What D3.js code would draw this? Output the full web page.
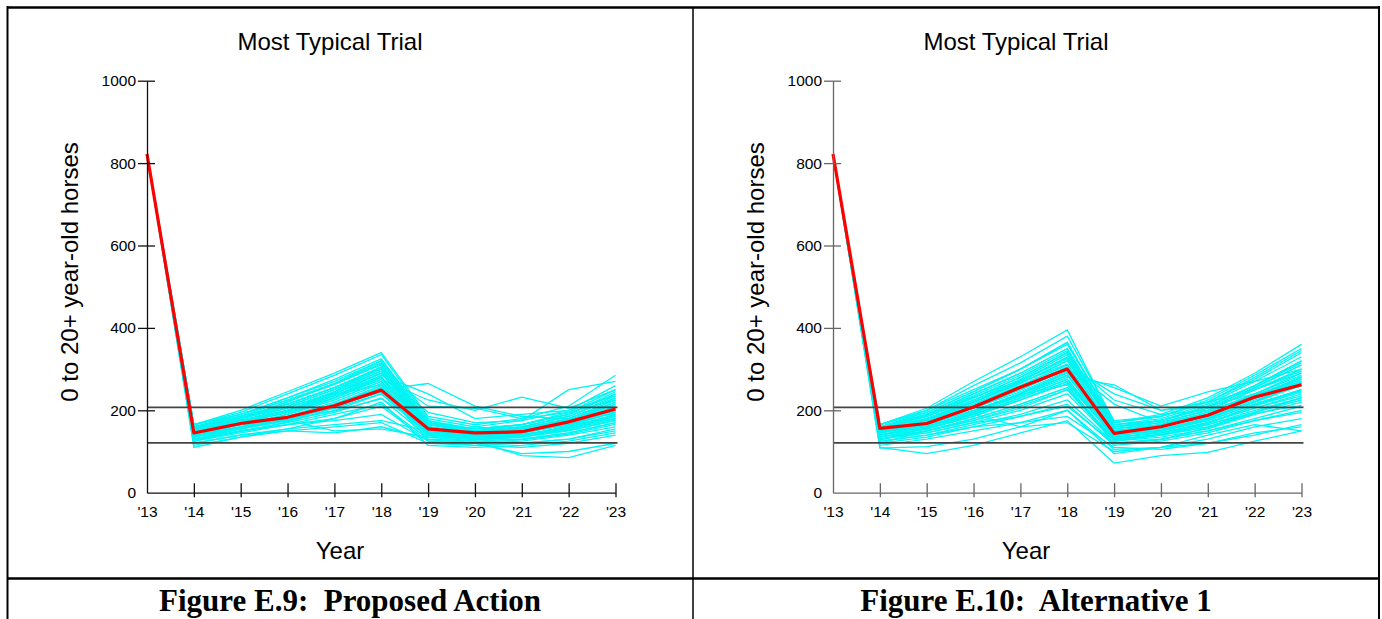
<!DOCTYPE html>
<html><head><meta charset="utf-8">
<script src="https://cdn.jsdelivr.net/npm/d3@7"></script>
<style>
html,body{margin:0;padding:0;background:#fff;}
svg{display:block;}
</style></head>
<body>
<svg id="c" width="1382" height="619"></svg>
<script>
const years = ["'13","'14","'15","'16","'17","'18","'19","'20","'21","'22","'23"];
const yTicks = [0,200,400,600,800,1000];
const refLines = [207,121];
const titles = ["Most Typical Trial","Most Typical Trial"];
const captions = ["Figure E.9:  Proposed Action","Figure E.10:  Alternative 1"];
const yLabel = "0 to 20+ year-old horses";
const xLabel = "Year";

const typicalLeft  = [822,145,168,183,211,249,155,145,148,172,203];
const typicalRight = [822,156,168,208,256,300,144,160,188,232,262];

const trialsLeft = [
[822,150,170,195,230,280,160,140,150,170,200],
[822,160,185,215,255,300,170,150,160,185,230],
[822,140,160,180,205,240,145,130,135,155,180],
[822,130,150,170,195,230,135,125,130,145,170],
[822,165,195,240,285,335,180,160,175,200,260],
[822,155,180,220,265,320,165,145,155,180,220],
[822,145,170,200,240,290,155,140,145,165,205],
[822,125,145,165,180,210,125,120,125,140,160],
[822,135,155,180,215,260,150,135,140,160,190],
[822,160,190,230,275,325,175,150,165,190,240],
[822,150,175,205,245,305,160,145,150,175,215],
[822,120,140,150,160,170,120,115,110,120,140],
[822,140,165,190,225,270,150,135,145,165,195],
[822,165,200,245,290,340,185,165,180,210,285],
[822,130,155,175,200,240,140,130,135,150,175],
[822,145,165,185,215,255,155,140,150,170,210],
[822,155,180,210,250,295,165,150,155,180,225],
[822,115,135,150,145,160,130,120,95,100,120],
[822,150,175,200,235,285,240,180,190,200,235],
[822,135,160,185,220,265,145,130,140,155,185],
[822,160,185,225,265,315,170,150,160,185,235],
[822,140,160,190,230,275,225,200,232,205,250],
[822,145,170,195,230,275,160,145,150,170,205],
[822,125,150,165,190,215,130,125,120,130,150],
[822,155,175,200,240,290,210,205,180,195,225],
[822,150,170,195,230,280,150,140,145,165,200],
[822,135,155,175,210,250,140,130,130,145,170],
[822,165,190,230,270,320,175,155,165,190,245],
[822,120,140,155,165,175,150,160,150,165,180],
[822,140,160,185,215,250,265,210,185,180,190],
[822,155,180,215,255,305,170,150,160,185,230],
[822,130,155,180,210,245,145,135,140,160,185],
[822,145,165,175,150,155,135,125,90,85,115],
[822,150,175,200,245,295,160,145,155,175,215],
[822,160,185,210,250,300,165,150,155,180,225],
[822,110,135,155,180,220,115,110,115,125,145],
[822,140,165,190,225,270,155,140,150,170,200],
[822,150,170,200,240,290,195,170,175,250,270],
[822,135,160,185,215,255,145,135,140,155,180],
[822,145,170,195,235,280,155,145,150,170,210],
[822,160,185,215,255,305,165,155,165,190,240],
[822,130,150,165,175,190,125,115,120,130,155],
[822,155,180,205,245,290,160,145,155,175,220],
[822,140,160,180,210,245,150,140,150,165,195],
[822,165,190,225,265,310,170,155,165,195,250],
[822,148,172,198,238,262,138,128,136,152,176],
[822,158,182,208,242,282,148,138,142,158,188],
[822,128,148,172,205,252,128,122,128,142,166],
[822,152,178,222,262,312,142,132,138,162,196],
[822,138,158,178,198,228,158,148,158,178,208]
];

const trialsRight = [
[822,150,170,210,255,300,150,160,185,230,265],
[822,160,190,240,290,350,160,175,205,255,310],
[822,140,155,185,225,270,135,145,170,210,245],
[822,130,145,170,200,240,125,135,155,190,220],
[822,165,205,270,330,395,170,190,230,290,360],
[822,155,185,230,280,340,155,170,200,250,300],
[822,145,165,200,240,285,145,155,180,220,260],
[822,125,140,160,185,215,115,125,145,175,200],
[822,135,155,190,230,275,140,150,175,215,250],
[822,160,195,245,300,365,165,180,215,270,330],
[822,150,175,220,265,320,150,165,195,240,290],
[822,110,95,115,145,175,72,90,98,125,150],
[822,140,160,195,235,285,140,150,180,220,265],
[822,165,200,260,315,380,175,185,225,285,350],
[822,130,150,175,210,250,130,140,160,195,230],
[822,145,170,210,250,300,150,160,190,235,275],
[822,155,180,225,270,325,160,170,200,250,295],
[822,115,130,150,170,200,105,110,130,160,180],
[822,150,175,215,260,310,240,200,220,250,290],
[822,135,155,190,225,270,135,145,170,205,240],
[822,160,190,240,290,350,165,175,210,260,320],
[822,140,165,205,245,295,255,210,245,270,300],
[822,145,170,205,250,300,145,160,185,230,270],
[822,125,140,165,190,225,120,130,150,180,210],
[822,155,180,220,265,320,225,190,200,235,270],
[822,150,170,205,250,300,150,165,190,235,275],
[822,135,150,180,215,255,130,140,165,200,230],
[822,165,200,250,300,360,170,185,220,275,340],
[822,120,135,160,170,185,110,105,120,140,165],
[822,140,160,195,235,280,262,200,210,240,265],
[822,155,185,225,275,335,160,175,205,255,310],
[822,130,150,180,215,255,130,140,160,195,225],
[822,145,165,190,160,170,100,110,140,165,150],
[822,150,175,215,260,310,155,165,195,240,285],
[822,160,190,235,285,345,160,175,210,260,315],
[822,108,112,130,160,200,95,110,120,145,160],
[822,140,165,200,240,290,140,155,180,225,260],
[822,150,175,210,255,305,215,170,190,235,280],
[822,135,155,185,225,265,135,145,170,205,235],
[822,145,170,210,255,305,150,160,190,235,280],
[822,160,185,230,280,340,160,175,210,260,320],
[822,130,145,170,185,210,120,130,150,175,195],
[822,155,180,220,270,330,155,170,200,250,300],
[822,140,160,190,230,275,140,150,175,215,250],
[822,165,195,245,300,365,170,185,220,280,345],
[822,120,150,175,205,250,125,140,165,195,230],
[822,148,178,222,268,312,128,142,168,212,248],
[822,158,188,232,272,328,138,152,182,228,282],
[822,128,158,198,238,262,118,128,158,192,212],
[822,152,162,192,242,292,132,148,178,222,268]
];

const svg = d3.select("#c");
const SANS = "'Liberation Sans', Arial, sans-serif";
const SERIF = "'Liberation Serif', 'Times New Roman', serif";

// frame
const frame = svg.append("g").attr("fill","none").attr("stroke","#000");
frame.append("line").attr("x1",7).attr("x2",1380).attr("y1",7.5).attr("y2",7.5).attr("stroke-width",2.5);
frame.append("line").attr("x1",7.5).attr("x2",7.5).attr("y1",6).attr("y2",619).attr("stroke-width",2);
frame.append("line").attr("x1",1379).attr("x2",1379).attr("y1",6).attr("y2",619).attr("stroke-width",2);
frame.append("line").attr("x1",693).attr("x2",693).attr("y1",7).attr("y2",619).attr("stroke-width",1.5);
frame.append("line").attr("x1",7).attr("x2",1380).attr("y1",578.5).attr("y2",578.5).attr("stroke-width",2.5);

function panel(ox, trials, typical, axisColor, title, caption){
  const g = svg.append("g").attr("transform",`translate(${ox},0)`);
  const x = d3.scalePoint().domain(years).range([140, 608.5]);
  const y = d3.scaleLinear().domain([0,1000]).range([492.7, 80.7]);

  // title
  g.append("text").attr("x",323).attr("y",50).attr("text-anchor","middle")
    .attr("font-family",SANS).attr("font-size",24).attr("fill","#000").text(title);

  // trials
  const line = d3.line().x((d,i)=>x(years[i])).y(d=>y(d));
  g.append("g").selectAll("path").data(trials).enter().append("path")
    .attr("d",line).attr("fill","none").attr("stroke","#00f4f4").attr("stroke-width",1.3)
    .attr("stroke-linejoin","miter");

  // reference lines
  g.selectAll("line.ref").data(refLines).enter().append("line").attr("class","ref")
    .attr("x1",x(years[0])).attr("x2",x(years[years.length-1])+2)
    .attr("y1",d=>y(d)).attr("y2",d=>y(d))
    .attr("stroke","#444").attr("stroke-width",1.6);

  // typical
  g.append("path").datum(typical).attr("d",line).attr("fill","none")
    .attr("stroke","#ff0000").attr("stroke-width",3.2).attr("stroke-linejoin","round");

  // y axis
  const ya = d3.axisLeft(y).tickValues(yTicks).tickFormat(d3.format("d")).tickSize(0).tickPadding(11);
  const yg = g.append("g").attr("transform",`translate(${x(years[0])},0)`).call(ya);
  yg.select(".domain").attr("stroke",axisColor).attr("stroke-width",1.3);
  yg.selectAll(".tick text").attr("font-family",SANS).attr("font-size",15.5).attr("fill","#000");
  yg.selectAll(".tick").filter(d=>d>0).append("line").attr("x1",-9).attr("x2",8)
    .attr("stroke",axisColor).attr("stroke-width",1.3);

  // x axis
  const xa = d3.axisBottom(x).tickSize(0).tickPadding(13);
  const xg = g.append("g").attr("transform",`translate(0,${y(0)})`).call(xa);
  xg.select(".domain").attr("stroke",axisColor).attr("stroke-width",1.3);
  xg.selectAll(".tick text").attr("font-family",SANS).attr("font-size",15.5).attr("fill","#000");
  xg.selectAll(".tick").filter((d,i)=>i>0).append("line").attr("y1",-9.5).attr("y2",4.5)
    .attr("stroke",axisColor).attr("stroke-width",1.3);

  // axis labels
  g.append("text").attr("transform","translate(62,272) rotate(-90)")
    .attr("text-anchor","middle").attr("dominant-baseline","central")
    .attr("font-family",SANS).attr("font-size",24).attr("fill","#000").text(yLabel);
  g.append("text").attr("x",333).attr("y",559).attr("text-anchor","middle")
    .attr("font-family",SANS).attr("font-size",24).attr("fill","#000").text(xLabel);

  // caption
  g.append("text").attr("x",343).attr("y",611).attr("text-anchor","middle")
    .attr("font-family",SERIF).attr("font-weight","bold").attr("font-size",31)
    .style("white-space","pre").attr("fill","#000").text(caption);
}

panel(7, trialsLeft, typicalLeft, "#111", titles[0], captions[0]);
panel(693, trialsRight, typicalRight, "#666", titles[1], captions[1]);
</script>
</body></html>
